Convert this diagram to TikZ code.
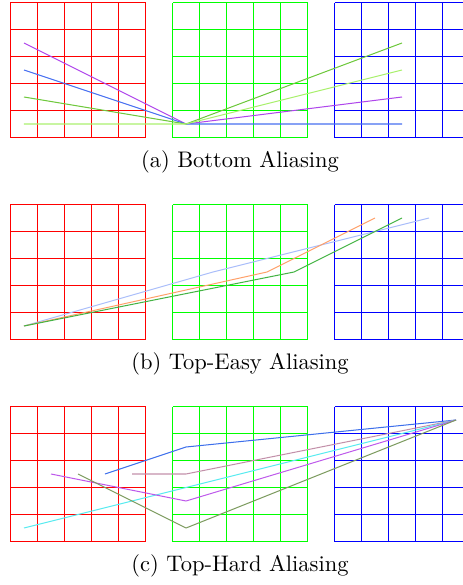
\documentclass[tikz,border=0pt]{standalone}
\definecolor{cA1}{RGB}{175,70,235}
\definecolor{cA2}{RGB}{70,110,240}
\definecolor{cA3}{RGB}{110,200,60}
\definecolor{cA4}{RGB}{170,240,110}
\definecolor{cB1}{RGB}{255,160,105}
\definecolor{cB2}{RGB}{70,180,70}
\definecolor{cB3}{RGB}{170,190,250}
\definecolor{cC1}{RGB}{60,110,235}
\definecolor{cC2}{RGB}{195,145,170}
\definecolor{cC3}{RGB}{190,90,235}
\definecolor{cC4}{RGB}{90,235,240}
\definecolor{cC5}{RGB}{125,155,95}
\definecolor{gR}{RGB}{255,0,0}
\definecolor{gG}{RGB}{0,255,0}
\definecolor{gB}{RGB}{0,0,255}
\begin{document}
% 1 px = 0.44444pt, one cell = 27 px = 12pt
\begin{tikzpicture}[x=12pt,y=12pt,
  gridline/.style={line width=0.4444pt},
  dataline/.style={line width=0.45pt, line join=round},
  captext/.style={anchor=base, inner sep=0pt, font=\normalsize}]
\useasboundingbox (-0.38889,-16.57407) rectangle (16.75926,5.09259);
% grids of the three panels
\foreach \oy in {0,-7.48148,-14.96296} {
  \foreach \gx/\gc in {0/gR,6/gG,12/gB} {
    \draw[draw=\gc,gridline]
      \foreach \k in {0,1,2,3,4,5} {(\gx+\k,\oy) -- (\gx+\k,\oy+5) (\gx,\oy+\k) -- (\gx+5,\oy+\k)};
  }
}
% (a) Bottom Aliasing
\begin{scope}
  \draw[cA1,dataline] (0.5,3.5) -- (6.5,0.5) -- (14.5,1.5);
  \draw[cA2,dataline] (0.5,2.5) -- (6.5,0.5) -- (14.5,0.5);
  \draw[cA3,dataline] (0.5,1.5) -- (6.5,0.5) -- (14.5,3.5);
  \draw[cA4,dataline] (0.5,0.5) -- (6.5,0.5) -- (14.5,2.5);
  \node[captext] (capa) at (8.5,-1.1) {(a) Bottom Aliasing};
\end{scope}
% (b) Top-Easy Aliasing
\begin{scope}[yshift=-89.7778pt]
  \draw[cB3,dataline] (0.5,0.5) -- (7.5,2.5) -- (15.5,4.5);
  \draw[cB1,dataline] (0.5,0.5) -- (9.5,2.5) -- (13.5,4.5);
  \draw[cB2,dataline] (0.5,0.5) -- (10.5,2.5) -- (14.5,4.5);
  \node[captext] (capb) at (8.5,-1.1) {(b) Top-Easy Aliasing};
\end{scope}
% (c) Top-Hard Aliasing
\begin{scope}[yshift=-179.5556pt]
  \coordinate (tip) at (16.5,4.5);
  \draw[cC1,dataline] (3.5,2.5) -- (6.5,3.5) -- (tip);
  \draw[cC2,dataline] (4.5,2.5) -- (6.5,2.5) -- (tip);
  \draw[cC4,dataline] (0.5,0.5) -- (tip);
  \draw[cC3,dataline] (1.5,2.5) -- (6.5,1.5) -- (tip);
  \draw[cC5,dataline] (2.5,2.5) -- (6.5,0.5) -- (tip);
  \node[captext] (capc) at (8.5,-1.1) {(c) Top-Hard Aliasing};
\end{scope}
\end{tikzpicture}
\end{document}
